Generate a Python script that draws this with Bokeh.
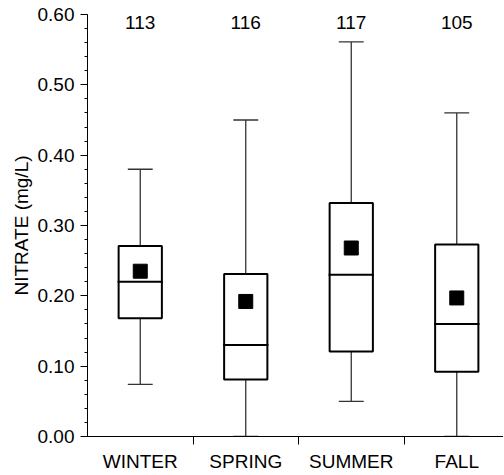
from bokeh.plotting import figure
from bokeh.models import FixedTicker, NumeralTickFormatter, Range1d, ColumnDataSource
from bokeh.core.properties import value
from bokeh.embed import file_html
from bokeh.resources import INLINE

seasons = ["WINTER", "SPRING", "SUMMER", "FALL"]
counts = ["113", "116", "117", "105"]
whisker_low = [0.074, 0.0, 0.050, 0.0]
q1 = [0.168, 0.081, 0.121, 0.092]
median = [0.220, 0.130, 0.230, 0.160]
q3 = [0.271, 0.231, 0.332, 0.273]
whisker_high = [0.380, 0.450, 0.561, 0.460]
mean = [0.235, 0.192, 0.268, 0.197]
y_ticks = [0.0, 0.1, 0.2, 0.3, 0.4, 0.5, 0.6]

pos = [i + 1 for i in range(len(seasons))]
font = "Liberation Sans"
FS = "19px"

p = figure(width=503, height=474, output_backend="svg", toolbar_location=None,
           x_range=Range1d(0.5, 4.443), y_range=Range1d(0.0, 0.6),
           min_border_left=87, min_border_top=14, min_border_right=0, min_border_bottom=38)
p.outline_line_color = None
p.grid.grid_line_color = None
p.background_fill_color = "white"
p.border_fill_color = "white"

cap_half = 0.118
med_half = 0.215
src = ColumnDataSource(dict(x=pos, lo=whisker_low, q1=q1, med=median, q3=q3,
                            hi=whisker_high, mean=mean, n=counts,
                            cl=[x - cap_half for x in pos], cr=[x + cap_half for x in pos],
                            ml=[x - med_half for x in pos], mr=[x + med_half for x in pos],
                            ny=[0.589] * len(pos)))

wc = "#333333"
# whiskers
p.segment(x0="x", y0="lo", x1="x", y1="q1", source=src, line_color=wc, line_width=1.3)
p.segment(x0="x", y0="q3", x1="x", y1="hi", source=src, line_color=wc, line_width=1.3)
p.segment(x0="cl", y0="lo", x1="cr", y1="lo", source=src, line_color=wc, line_width=1.3)
p.segment(x0="cl", y0="hi", x1="cr", y1="hi", source=src, line_color=wc, line_width=1.3)
# boxes
p.vbar(x="x", width=0.41, bottom="q1", top="q3",
       source=src, fill_color="white", line_color="black", line_width=2)
p.segment(x0="ml", y0="med", x1="mr", y1="med", source=src, line_color="black", line_width=2)
# mean
p.scatter(x="x", y="mean", source=src, marker="square", size=14, fill_color="black", line_color="black")
# counts
p.text(x="x", y="ny", text="n", source=src, text_align="center", text_baseline="middle",
       text_font=value(font), text_font_size=FS, text_color="black")

# axes
xa = p.xaxis[0]
xa.ticker = FixedTicker(ticks=pos, minor_ticks=[1.5, 2.5, 3.5])
xa.major_label_overrides = {i + 1: s for i, s in enumerate(seasons)}
xa.major_tick_out = 0
xa.major_tick_in = 0
xa.minor_tick_out = 8
xa.minor_tick_in = 0
xa.major_label_standoff = 6
xa.major_label_text_font = font
xa.major_label_text_font_size = FS
xa.major_label_text_color = "black"
xa.axis_line_color = "black"
xa.minor_tick_line_color = "black"

ya = p.yaxis[0]
minor = [round(0.02 * k, 2) for k in range(31)]
ya.ticker = FixedTicker(ticks=y_ticks, minor_ticks=minor)
ya.formatter = NumeralTickFormatter(format="0.00")
ya.major_tick_out = 7
ya.major_tick_in = 0
ya.minor_tick_out = 3
ya.minor_tick_in = 0
ya.major_label_standoff = 6
ya.major_label_text_font = font
ya.major_label_text_font_size = FS
ya.major_label_text_color = "black"
ya.axis_label = "NITRATE (mg/L)"
ya.axis_label_text_font = font
ya.axis_label_text_font_size = FS
ya.axis_label_text_font_style = "normal"
ya.axis_label_text_color = "black"
ya.axis_label_standoff = 3
ya.axis_line_color = "black"
ya.major_tick_line_color = "black"
ya.minor_tick_line_color = "black"

open("out.html", "w").write(file_html(p, INLINE))
